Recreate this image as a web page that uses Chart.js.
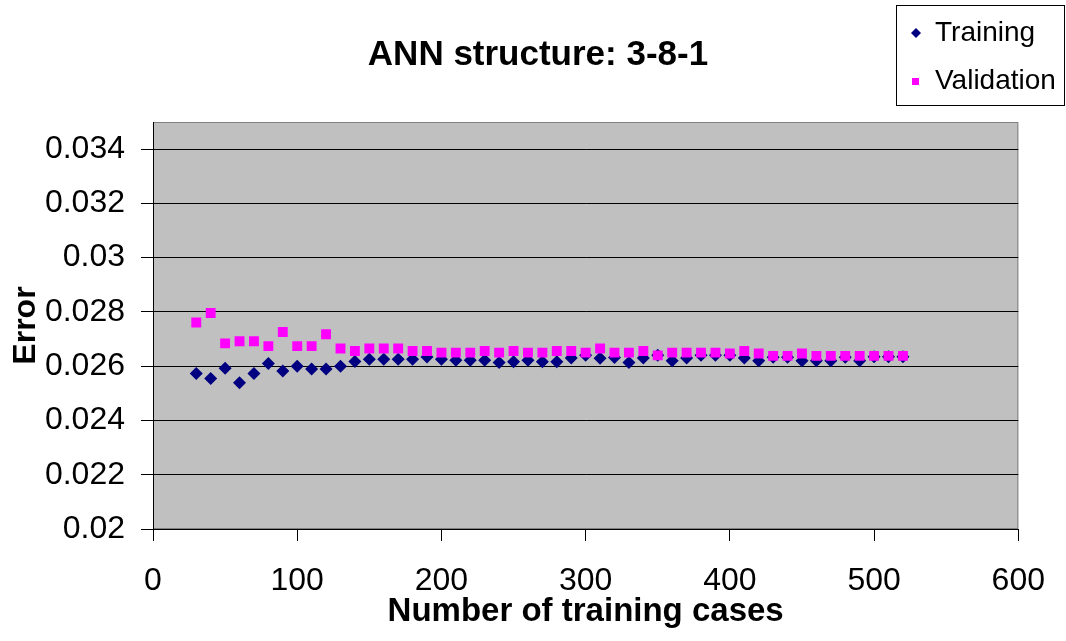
<!DOCTYPE html>
<html>
<head>
<meta charset="utf-8">
<title>ANN structure: 3-8-1</title>
<script src="https://cdn.jsdelivr.net/npm/chart.js@4/dist/chart.umd.min.js"></script>
<style>
  html, body { margin: 0; padding: 0; background: #fff; }
  #wrap { width: 1066px; height: 641px; }
</style>
</head>
<body>
<div id="wrap"><canvas id="annChart" width="1066" height="641"></canvas></div>
<script>
// training set sizes (x values)
const trainingCases = [30, 40, 50, 60, 70, 80, 90, 100, 110, 120,
    130, 140, 150, 160, 170, 180, 190, 200, 210, 220,
    230, 240, 250, 260, 270, 280, 290, 300, 310, 320,
    330, 340, 350, 360, 370, 380, 390, 400, 410, 420,
    430, 440, 450, 460, 470, 480, 490, 500, 510, 520];

const trainingError = [0.02573, 0.02555, 0.02592, 0.02539, 0.02573, 0.02610, 0.02582, 0.02600, 0.02590, 0.02590,
    0.02600, 0.02617, 0.02626, 0.02626, 0.02626, 0.02626, 0.02634, 0.02626, 0.02622, 0.02622,
    0.02622, 0.02614, 0.02616, 0.02622, 0.02616, 0.02616, 0.02630, 0.02640, 0.02629, 0.02632,
    0.02614, 0.02630, 0.02640, 0.02620, 0.02630, 0.02640, 0.02640, 0.02640, 0.02630, 0.02620,
    0.02633, 0.02633, 0.02620, 0.02620, 0.02620, 0.02633, 0.02620, 0.02635, 0.02635, 0.02635];

const validationError = [0.02761, 0.02796, 0.02684, 0.02692, 0.02692, 0.02674, 0.02726, 0.02674, 0.02674, 0.02718,
    0.02665, 0.02656, 0.02665, 0.02665, 0.02665, 0.02656, 0.02656, 0.02650, 0.02650, 0.02650,
    0.02656, 0.02650, 0.02656, 0.02650, 0.02650, 0.02656, 0.02656, 0.02650, 0.02665, 0.02650,
    0.02650, 0.02656, 0.02640, 0.02650, 0.02650, 0.02650, 0.02650, 0.02647, 0.02656, 0.02647,
    0.02638, 0.02638, 0.02647, 0.02638, 0.02638, 0.02638, 0.02638, 0.02638, 0.02638, 0.02638];

const yTicks = [0.02, 0.022, 0.024, 0.026, 0.028, 0.03, 0.032, 0.034];
const xTicks = [0, 100, 200, 300, 400, 500, 600];

const FONT = "'Liberation Sans', Arial, sans-serif";

function toPoints(xs, ys) {
    return xs.map((x, i) => ({ x: x, y: ys[i] }));
}

// grey plot background with a thin grey frame, like the old Excel charts
const plotBackground = {
    id: 'plotBackground',
    beforeDraw(chart) {
        const { ctx, chartArea: a } = chart;
        ctx.save();
        ctx.fillStyle = '#C0C0C0';
        ctx.fillRect(a.left, a.top, a.right - a.left, a.bottom - a.top);
        ctx.strokeStyle = '#808080';
        ctx.lineWidth = 1;
        ctx.strokeRect(a.left + 0.5, a.top + 0.5, a.right - a.left - 1, a.bottom - a.top - 1);
        ctx.restore();
    }
};

// boxed legend in the top right corner
const boxLegend = {
    id: 'boxLegend',
    afterDraw(chart) {
        const ctx = chart.ctx;
        ctx.save();
        ctx.fillStyle = '#fff';
        ctx.fillRect(896.5, 5.5, 168, 100);
        ctx.strokeStyle = '#000';
        ctx.lineWidth = 1;
        ctx.strokeRect(896.5, 5.5, 168, 100);
        ctx.font = '28px ' + FONT;
        ctx.textBaseline = 'middle';
        ctx.textAlign = 'left';
        const rows = [33, 81];
        chart.data.datasets.forEach((ds) => {
            const y = rows[ds.legendRow];
            ctx.fillStyle = ds.backgroundColor;
            if (ds.pointStyle === 'rectRot') {
                ctx.beginPath();
                ctx.moveTo(916, y - 5);
                ctx.lineTo(921, y);
                ctx.lineTo(916, y + 5);
                ctx.lineTo(911, y);
                ctx.closePath();
                ctx.fill();
            } else {
                ctx.fillRect(912, y - 3, 7, 7);
            }
            ctx.fillStyle = '#000';
            ctx.fillText(ds.label, 935, y);
        });
        ctx.restore();
    }
};

const ctx = document.getElementById('annChart').getContext('2d');

const annChart = new Chart(ctx, {
    type: 'scatter',
    data: {
        datasets: [
            {
                label: 'Training',
                data: toPoints(trainingCases, trainingError),
                backgroundColor: '#000080',
                borderColor: '#000080',
                borderWidth: 0,
                pointStyle: 'rectRot',
                pointRadius: 6.5,
                order: 2,
                legendRow: 0
            },
            {
                label: 'Validation',
                data: toPoints(trainingCases, validationError),
                backgroundColor: '#FF00FF',
                borderColor: '#FF00FF',
                borderWidth: 0,
                pointStyle: 'rect',
                pointRadius: 7,
                order: 1,
                legendRow: 1
            }
        ]
    },
    options: {
        responsive: false,
        animation: false,
        layout: { padding: { left: 10, right: 0, top: 0, bottom: 0 } },
        plugins: {
            legend: { display: false },
            tooltip: { enabled: false },
            title: {
                display: true,
                text: 'ANN structure: 3-8-1',
                color: '#000',
                font: { family: FONT, size: 35, weight: 'bold' },
                padding: { top: 34, bottom: 46 }
            }
        },
        scales: {
            x: {
                type: 'linear',
                min: 0,
                max: 600,
                afterBuildTicks: (scale) => { scale.ticks = xTicks.map(v => ({ value: v })); },
                afterFit: (scale) => { scale.height = 112; },
                grid: { drawOnChartArea: false, color: '#000', tickLength: 12 },
                border: { color: '#000', width: 1 },
                ticks: {
                    color: '#000',
                    padding: 21,
                    font: { family: FONT, size: 32 }
                },
                title: {
                    display: true,
                    text: 'Number of training cases',
                    color: '#000',
                    font: { family: FONT, size: 33, weight: 'bold' },
                    padding: { top: 0, bottom: 9 }
                }
            },
            y: {
                type: 'linear',
                min: 0.02,
                max: 0.035,
                afterBuildTicks: (scale) => { scale.ticks = yTicks.map(v => ({ value: v })); },
                afterFit: (scale) => { scale.width = 143; },
                grid: { color: '#000', tickLength: 12 },
                border: { color: '#000', width: 1 },
                ticks: {
                    color: '#000',
                    padding: 16,
                    font: { family: FONT, size: 32 },
                    callback: (v) => String(v)
                },
                title: {
                    display: true,
                    text: 'Error',
                    color: '#000',
                    font: { family: FONT, size: 32, weight: 'bold' },
                    padding: { top: -3, bottom: 0 }
                }
            },
            // empty axis on the right, only keeps the plot clear of the edge
            spacer: {
                type: 'linear',
                position: 'right',
                display: true,
                grid: { display: false },
                ticks: { display: false },
                border: { display: false },
                afterFit: (scale) => { scale.width = 45; }
            }
        }
    },
    plugins: [plotBackground, boxLegend]
});
</script>
</body>
</html>
